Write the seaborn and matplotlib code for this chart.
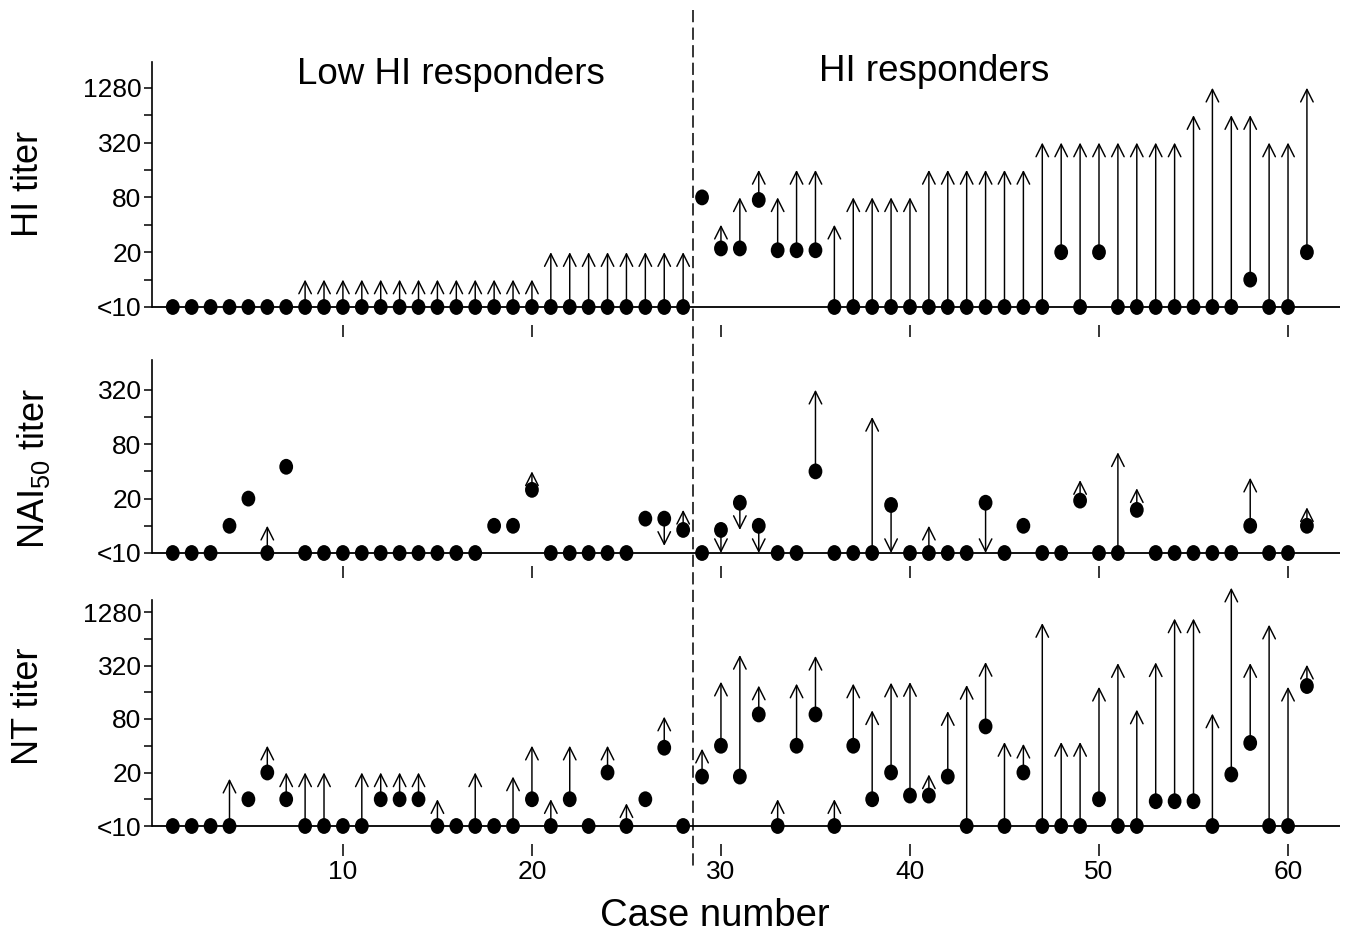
import numpy as np
import pandas as pd
import matplotlib
matplotlib.use('Agg')
import matplotlib.pyplot as plt
from matplotlib.path import Path
from matplotlib.markers import MarkerStyle
from matplotlib.lines import Line2D
from matplotlib.ticker import FixedLocator, NullFormatter
import seaborn as sns

N = None
casos = list(range(1, 62))

# ── Títulos (pre = punto, post = punta de la flecha) ─────────
hi_pre = [5, 5, 5, 5, 5, 5, 5, 5, 5, 5,
          5, 5, 5, 5, 5, 5, 5, 5, 5, 5,
          5, 5, 5, 5, 5, 5, 5, 5, 80, 22,
          22, 75, 21, 21, 21, 5, 5, 5, 5, 5,
          5, 5, 5, 5, 5, 5, 5, 20, 5, 20,
          5, 5, 5, 5, 5, 5, 5, 10, 5, 5, 20]
hi_post = [N, N, N, N, N, N, N, 10, 10, 10,
           10, 10, 10, 10, 10, 10, 10, 10, 10, 10,
           20, 20, 20, 20, 20, 20, 20, 20, N, 40,
           80, 160, 80, 160, 160, 40, 80, 80, 80, 80,
           160, 160, 160, 160, 160, 160, 320, 320, 320, 320,
           320, 320, 320, 320, 640, 1280, 640, 640, 320, 320, 1280]

nai_pre = [5, 5, 5, 10, 20, 5, 45, 5, 5, 5,
           5, 5, 5, 5, 5, 5, 5, 10, 10, 25,
           5, 5, 5, 5, 5, 12, 12, 9, 5, 9,
           18, 10, 5, 5, 40, 5, 5, 5, 17, 5,
           5, 5, 5, 18, 5, 10, 5, 5, 19, 5,
           5, 15, 5, 5, 5, 5, 5, 10, 5, 5, 10]
nai_post = [N, N, N, N, N, 10, N, N, N, N,
            N, N, N, N, N, N, N, N, N, 40,
            N, N, N, N, N, N, 6, 15, N, 5,
            9, 5, N, N, 320, N, N, 160, 5, N,
            10, N, N, 5, N, N, N, N, 32, N,
            65, 26, N, N, N, N, N, 34, N, N, 16]

nt_pre = [5, 5, 5, 5, 10, 20, 10, 5, 5, 5,
          5, 10, 10, 10, 5, 5, 5, 5, 5, 10,
          5, 10, 5, 20, 5, 10, 38, 5, 18, 40,
          18, 90, 5, 40, 90, 5, 40, 10, 20, 11,
          11, 18, 5, 66, 5, 20, 5, 5, 5, 10,
          5, 5, 9.5, 9.5, 9.5, 5, 19, 43, 5, 5, 188]
nt_post = [N, N, N, 17, N, 40, 20, 20, 20, N,
           20, 20, 20, 20, 10, N, 20, N, 18, 40,
           10, 40, N, 40, 9, N, 85, N, 37, 210,
           420, 190, 10, 200, 410, 10, 200, 100, 205, 208,
           19, 98, 193, 350, 44, 42, 960, 44, 44, 184,
           340, 102, 347, 1080, 1080, 92, 2400, 340, 920, 184, 326]

tick_vals = [5, 20, 80, 320, 1280]
tick_txt = ['<10', '20', '80', '320', '1280']
minor_vals = [10, 40, 160, 640]
x_ticks = [10, 20, 30, 40, 50, 60]
corte = 28.5

# ── Estilo ───────────────────────────────────────────────────
sns.set_style('white')
plt.rcParams['font.family'] = ['Liberation Sans', 'DejaVu Sans']
plt.rcParams['mathtext.fontset'] = 'custom'
plt.rcParams['mathtext.rm'] = 'Liberation Sans'
plt.rcParams['text.color'] = 'black'
plt.rcParams['xtick.color'] = 'black'
plt.rcParams['ytick.color'] = 'black'
plt.rcParams['xtick.labelcolor'] = 'black'
plt.rcParams['ytick.labelcolor'] = 'black'

W, H = 1348, 936
fig = plt.figure(figsize=(W / 100, H / 100), dpi=100)

def nivel(l):
    return 5 * 2 ** l

circ = Path.unit_circle()
punto = MarkerStyle(Path(circ.vertices * [0.87, 1.0], circ.codes))

# (pre, post, top px, bottom px, baseline px, px por nivel, max tick)
paneles = [
    (hi_pre, hi_post, 62, 325, 307, 27.4, 1280),
    (nai_pre, nai_post, 360, 566, 553, 27.2, 320),
    (nt_pre, nt_post, 600, 844, 826, 26.75, 1280),
]

ejes = []
for pre, post, top, bot, base, paso, tmax in paneles:
    ax = fig.add_axes([152 / W, 1 - bot / H, 1188 / W, (bot - top) / H])
    ax.set_yscale('log', base=2)
    y0 = nivel((base - bot) / paso)
    y1 = nivel((base - top) / paso)
    ax.set_ylim(y0, y1)
    ax.set_xlim(-0.1, 62.75)

    ax.axhline(5, color='black', lw=1.3, zorder=1)

    for c, a, b in zip(casos, pre, post):
        if b is None:
            continue
        ax.annotate('', xy=(c, b), xytext=(c, a), annotation_clip=False,
                    arrowprops=dict(arrowstyle='->,head_length=0.6,head_width=0.3',
                                    lw=1.05, color='black', shrinkA=0, shrinkB=0,
                                    mutation_scale=15), zorder=2)

    df = pd.DataFrame({'caso': casos, 'titulo': pre})
    sns.scatterplot(data=df, x='caso', y='titulo', ax=ax, marker=punto, s=130,
                    color='black', edgecolor='none', zorder=3, legend=False)

    for s in ['top', 'right', 'bottom']:
        ax.spines[s].set_visible(False)
    ax.spines['left'].set_bounds(5, y1)
    ax.spines['left'].set_linewidth(1.2)
    ax.spines['left'].set_color('black')

    tv = [v for v in tick_vals if v <= tmax]
    ax.yaxis.set_major_locator(FixedLocator(tv))
    ax.set_yticklabels(tick_txt[:len(tv)])
    ax.yaxis.set_minor_locator(FixedLocator([v for v in minor_vals if v < tmax]))
    ax.yaxis.set_minor_formatter(NullFormatter())
    ax.tick_params(axis='y', which='both', direction='out', length=6, width=1.1,
                   left=True, labelsize=19, pad=1.5, color='black', labelcolor='black')
    ax.set_xticks(x_ticks)
    ax.tick_params(axis='x', direction='out', length=8.5, width=1.1, bottom=True,
                   labelsize=19, pad=3, color='black', labelcolor='black')
    ax.set_xlabel('')
    ax.set_ylabel('')
    ax.patch.set_alpha(0)
    ejes.append(ax)

ejes[0].tick_params(labelbottom=False)
ejes[1].tick_params(labelbottom=False)

# ── Línea divisoria punteada ─────────────────────────────────
xd = ejes[0].transData.transform((corte, 5))[0] / W
fig.add_artist(Line2D([xd, xd], [1 - 10 / H, 1 - 868 / H], color='black',
                      lw=1.1, linestyle=(0, (8, 3.5)), zorder=0))

# ── Textos ───────────────────────────────────────────────────
fig.text(451 / W, 1 - 84 / H, 'Low HI responders', fontsize=26.5, ha='center', va='baseline')
fig.text(934 / W, 1 - 81 / H, 'HI responders', fontsize=26.5, ha='center', va='baseline')
fig.text(715 / W, 1 - 926 / H, 'Case number', fontsize=27.5, ha='center', va='baseline')
fig.text(29 / W, 1 - 184 / H, 'HI titer', fontsize=26, rotation=90, ha='center', va='center')
fig.text(33 / W, 1 - 468 / H, r'NAI$_{\mathregular{50}}$ titer', fontsize=26, rotation=90,
         ha='center', va='center')
fig.text(29 / W, 1 - 706 / H, 'NT titer', fontsize=26, rotation=90, ha='center', va='center')

plt.savefig('out.png', dpi=100)
plt.close()
print("out.png guardado")
